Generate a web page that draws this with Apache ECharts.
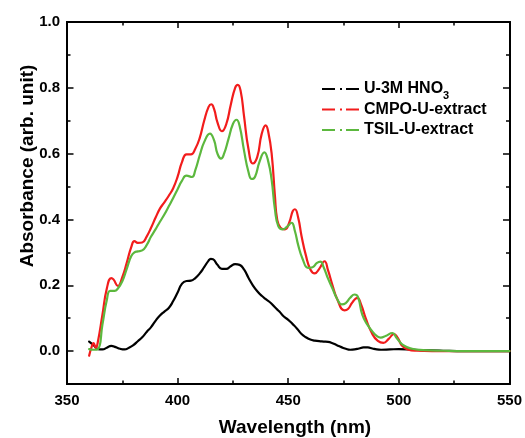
<!DOCTYPE html>
<html>
<head>
<meta charset="utf-8">
<style>
  html, body { margin: 0; padding: 0; background: #fff; }
  #chart { width: 525px; height: 438px; }
</style>
<script src="https://cdn.jsdelivr.net/npm/echarts@6/dist/echarts.min.js"></script>
</head>
<body>
<div id="chart"></div>
<script>
// UV-Vis absorption spectra of uranyl in nitric acid and in the two extract phases

const seriesNames = ['U-3M HNO3', 'CMPO-U-extract', 'TSIL-U-extract'];
const seriesColors = ['#000000', '#f21c1c', '#5cb83e'];

const xTickLabels = [350, 400, 450, 500, 550];
const yTickLabels = [0.0, 0.2, 0.4, 0.6, 0.8, 1.0];
const yMinorTicks = [0.1, 0.3, 0.5, 0.7, 0.9];

// U-3M HNO3
const wlHNO3 = [360, 362, 364, 366, 368, 370, 372, 374, 376, 378, 380, 382, 384, 386, 388, 390,
  392, 394, 396, 398, 400, 402, 404, 406, 408, 410, 412, 414, 415, 416, 418, 420, 422, 424, 426,
  428, 430, 432, 434, 436, 438, 440, 442, 444, 446, 448, 450, 452, 454, 456, 458, 460, 462, 464,
  466, 468, 470, 472, 474, 476, 478, 480, 482, 484, 486, 488, 490, 492, 496, 500, 505, 510, 520,
  530, 540, 550];
const absHNO3 = [0.029, 0.018, 0.006, 0.005, 0.010, 0.016, 0.012, 0.007, 0.005, 0.010, 0.018, 0.030,
  0.042, 0.058, 0.073, 0.092, 0.108, 0.120, 0.131, 0.152, 0.178, 0.205, 0.213, 0.214, 0.222, 0.236,
  0.255, 0.275, 0.280, 0.279, 0.262, 0.250, 0.250, 0.258, 0.264, 0.262, 0.248, 0.223, 0.200, 0.182,
  0.168, 0.157, 0.147, 0.133, 0.120, 0.105, 0.095, 0.082, 0.068, 0.052, 0.042, 0.035, 0.032, 0.030,
  0.029, 0.028, 0.024, 0.018, 0.012, 0.007, 0.004, 0.005, 0.008, 0.011, 0.011, 0.008, 0.005, 0.004,
  0.005, 0.006, 0.005, 0.003, 0.001, 0.000, 0.000, 0.000];

// CMPO-U-extract
const wlCMPO = [360, 361, 362, 363, 364, 366, 368, 370, 371, 373, 375, 377, 379, 380.5, 382, 384,
  386, 388, 390, 392, 394, 396, 398, 400, 402, 404, 406, 408, 410, 412, 414, 415.2, 416.5, 418, 420,
  422, 424, 426, 427.2, 428.5, 430, 432, 434, 436, 438, 439.8, 441, 442.5, 444, 445, 446.5, 448.5,
  450.5, 452, 453, 454.5, 456, 458, 460, 462, 464, 466.4, 468, 470, 472, 475.4, 477, 479, 481.2,
  483, 485, 488, 490.5, 493, 495.5, 497.8, 499.5, 501.5, 504, 508, 515, 530, 550];
const absCMPO = [-0.014, 0.010, 0.024, 0.010, 0.030, 0.110, 0.190, 0.222, 0.218, 0.198, 0.225, 0.268,
  0.315, 0.334, 0.329, 0.330, 0.348, 0.375, 0.405, 0.433, 0.452, 0.472, 0.495, 0.530, 0.575, 0.598,
  0.598, 0.615, 0.648, 0.700, 0.742, 0.750, 0.735, 0.695, 0.668, 0.690, 0.748, 0.800, 0.809, 0.790,
  0.715, 0.615, 0.570, 0.590, 0.660, 0.686, 0.665, 0.600, 0.470, 0.400, 0.375, 0.370, 0.392, 0.425,
  0.431, 0.405, 0.350, 0.290, 0.248, 0.236, 0.250, 0.273, 0.245, 0.200, 0.160, 0.124, 0.128, 0.148,
  0.162, 0.140, 0.100, 0.052, 0.031, 0.025, 0.038, 0.052, 0.040, 0.016, 0.005, 0.001, 0.000, 0.000,
  0.000];

// TSIL-U-extract
const wlTSIL = [360, 362, 364, 366, 368, 369.5, 371.5, 373, 375, 377, 379, 380.5, 382, 384, 386,
  388, 390, 392, 394, 396, 398, 400, 402, 404, 406.5, 408, 410, 412, 414.6, 416.5, 418, 419.6, 421,
  423, 425, 426.6, 428, 430, 432, 433.5, 435, 437, 439.2, 441, 442.5, 444, 445.5, 447.5, 449.5,
  451.5, 453, 454.5, 456.5, 459, 461, 463, 464.5, 466, 468, 470, 472, 474.2, 476, 478, 480, 481.5,
  483.5, 486, 488, 490, 491.8, 494, 497.1, 499, 502, 506, 511, 520, 530, 550];
const absTSIL = [0.006, 0.004, 0.006, 0.080, 0.155, 0.183, 0.183, 0.190, 0.212, 0.250, 0.288, 0.300,
  0.303, 0.306, 0.322, 0.348, 0.370, 0.393, 0.415, 0.440, 0.465, 0.492, 0.518, 0.533, 0.529, 0.550,
  0.595, 0.635, 0.661, 0.640, 0.600, 0.585, 0.600, 0.645, 0.690, 0.703, 0.685, 0.610, 0.545, 0.523,
  0.530, 0.575, 0.604, 0.575, 0.520, 0.430, 0.380, 0.370, 0.378, 0.390, 0.365, 0.322, 0.280, 0.253,
  0.255, 0.268, 0.272, 0.255, 0.220, 0.190, 0.160, 0.142, 0.146, 0.162, 0.172, 0.165, 0.110, 0.078,
  0.060, 0.046, 0.041, 0.046, 0.055, 0.040, 0.018, 0.007, 0.003, 0.001, 0.000, 0.000];

const FONT = '"Liberation Sans", Arial, Helvetica, sans-serif';
const pairs = (xs, ys) => xs.map((x, i) => [x, ys[i]]);

const chart = echarts.init(document.getElementById('chart'), null, { renderer: 'canvas' });

const X_MIN = 350, X_MAX = 550, Y_MIN = -0.1, Y_MAX = 1.0;
const frameLine = { show: true, onZero: false, lineStyle: { color: '#000', width: 2 } };
const tickStyle = { color: '#000', width: 1.5 };

function xAxisDef(position, showLabels) {
  return {
    type: 'value', position, min: X_MIN, max: X_MAX, interval: 50,
    axisLine: frameLine,
    axisTick: { show: true, inside: true, length: 6, lineStyle: tickStyle },
    minorTick: { show: true, splitNumber: 2, length: 3.5, lineStyle: tickStyle },
    splitLine: { show: false },
    axisLabel: {
      show: showLabels, margin: 9, color: '#000', fontFamily: FONT,
      fontWeight: 'bold', fontSize: 15,
      customValues: xTickLabels
    }
  };
}

function yAxisDef(position, values, tickLen, showLabels) {
  return {
    type: 'value', position, min: Y_MIN, max: Y_MAX,
    axisLine: frameLine,
    axisTick: { show: true, inside: true, length: tickLen, lineStyle: tickStyle, customValues: values },
    splitLine: { show: false },
    axisLabel: {
      show: showLabels, margin: 7, color: '#000', fontFamily: FONT,
      fontWeight: 'bold', fontSize: 15,
      customValues: values,
      formatter: v => v.toFixed(1)
    }
  };
}

const series = [
  [wlHNO3, absHNO3],
  [wlCMPO, absCMPO],
  [wlTSIL, absTSIL]
].map(([xs, ys], i) => ({
  name: seriesNames[i],
  type: 'line',
  xAxisIndex: 0,
  yAxisIndex: 0,
  data: pairs(xs, ys),
  smooth: 0.5,
  showSymbol: false,
  symbol: 'none',
  clip: true,
  color: seriesColors[i],
  lineStyle: { color: seriesColors[i], width: 2.2, cap: 'round', join: 'round' },
  z: 2 + i
}));

const legendIcon = 'path://M0,0h13v2h-13z M18,0h2v2h-2z M24,0h13v2h-13z';

chart.setOption({
  animation: false,
  backgroundColor: '#ffffff',
  grid: { left: 67, right: 12, top: 22, bottom: 54, containLabel: false },
  xAxis: [xAxisDef('bottom', true), xAxisDef('top', false)],
  yAxis: [
    yAxisDef('left', yTickLabels, 6.5, true),
    yAxisDef('left', yMinorTicks, 3.5, false),
    yAxisDef('right', yTickLabels, 6.5, false),
    yAxisDef('right', yMinorTicks, 3.5, false)
  ],
  legend: {
    orient: 'vertical',
    left: 317,
    top: 71.5,
    itemWidth: 37,
    itemHeight: 2,
    itemGap: -4.5,
    icon: legendIcon,
    selectedMode: false,
    data: seriesNames,
    formatter: name => name.replace('HNO3', 'HNO{sub|3}'),
    textStyle: {
      color: '#000', fontFamily: FONT, fontWeight: 'bold', fontSize: 16, lineHeight: 25,
      rich: {
        sub: {
          color: '#000', fontFamily: FONT, fontWeight: 'bold', fontSize: 11,
          lineHeight: 11, padding: [14, 0, 0, 0], verticalAlign: 'bottom'
        }
      }
    }
  },
  graphic: [
    {
      type: 'text', x: 28, y: 166, rotation: Math.PI / 2,
      style: {
        text: 'Absorbance (arb. unit)', fill: '#000', font: 'bold 19px ' + FONT,
        align: 'center', verticalAlign: 'middle'
      }
    },
    {
      type: 'text', x: 295, y: 428,
      style: {
        text: 'Wavelength (nm)', fill: '#000', font: 'bold 19px ' + FONT,
        align: 'center', verticalAlign: 'middle'
      }
    }
  ],
  series
});
</script>
</body>
</html>
